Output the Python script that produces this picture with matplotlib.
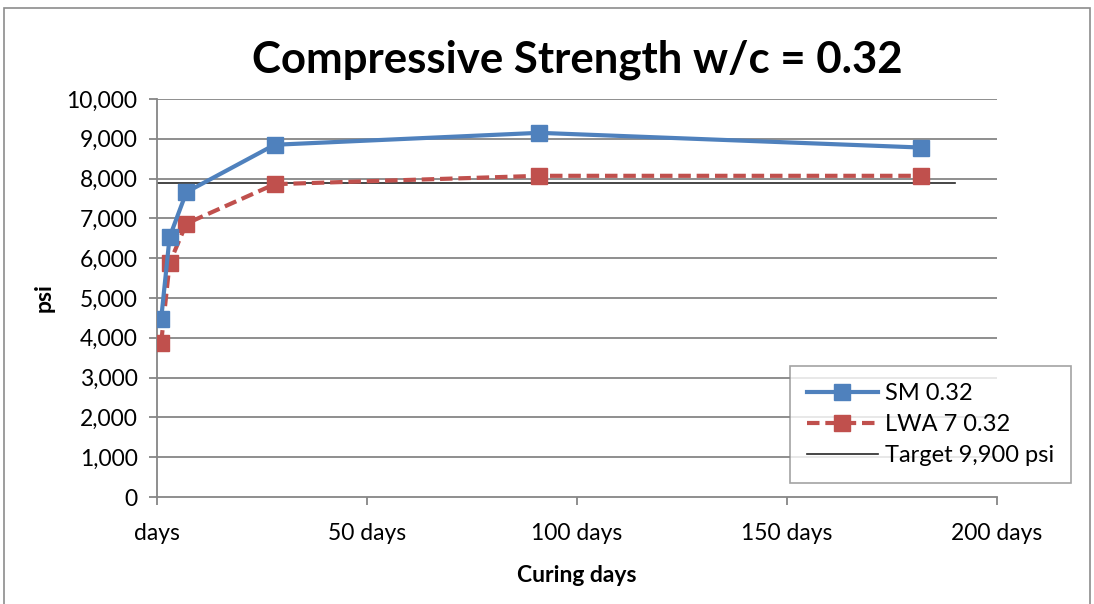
import matplotlib.pyplot as plt
from matplotlib.patches import Rectangle
from matplotlib.ticker import FuncFormatter

plt.rcParams['font.family'] = ['Lato', 'DejaVu Sans']

# curing age in days
days = [1, 3, 7, 28, 91, 182]
sm_psi = [4480, 6530, 7660, 8850, 9150, 8780]
lwa_psi = [3880, 5880, 6870, 7860, 8070, 8070]
target_days = [0, 190]
target_psi = [7890, 7890]

x_ticks = [0, 50, 100, 150, 200]
y_ticks = list(range(0, 10001, 1000))

fig = plt.figure(figsize=(10.94, 6.04), dpi=100)
ax = fig.add_axes([157 / 1094, 1 - 497 / 604, 840 / 1094, 398 / 604])

# outer chart border
fig.patches.append(Rectangle((4 / 1094, -0.01), 1086 / 1094, 1 - 8 / 604 + 0.01,
                             transform=fig.transFigure, fill=False,
                             edgecolor='#8c8c8c', lw=1.2))

grid_c = '#868686'
for y in y_ticks[1:]:
    ax.axhline(y, color=grid_c, lw=1.3, zorder=1)

ax.plot(target_days, target_psi, color='#262626', lw=1.2, zorder=2,
        label='Target 9,900 psi')
ax.plot(days, lwa_psi, color='#c0504d', lw=3, ls=(0, (3, 1.4)), marker='s',
        markersize=11, zorder=3, label='LWA 7 0.32')
ax.plot(days, sm_psi, color='#4f81bd', lw=3, marker='s', markersize=11,
        zorder=4, label='SM 0.32')

ax.set_xlim(0, 200)
ax.set_ylim(0, 10000)
ax.set_xticks(x_ticks)
ax.set_yticks(y_ticks)
ax.xaxis.set_major_formatter(FuncFormatter(lambda v, p: 'days' if v == 0 else f'{v:.0f} days'))
ax.yaxis.set_major_formatter(FuncFormatter(lambda v, p: f'{v:,.0f}'))
ax.tick_params(axis='both', labelsize=16.5, color=grid_c, length=6, width=1.3)
ax.tick_params(axis='x', pad=13)
ax.tick_params(axis='y', pad=8)

for s in ['top', 'right']:
    ax.spines[s].set_visible(False)
for s in ['left', 'bottom']:
    ax.spines[s].set_color(grid_c)
    ax.spines[s].set_linewidth(1.3)

ax.set_xlabel('Curing days', fontsize=16.5, fontweight='bold')
ax.set_ylabel('psi', fontsize=16.5, fontweight='bold')
ax.xaxis.set_label_coords(0.5, (497 - 565) / 398)
ax.yaxis.set_label_coords((55 - 157) / 840, 0.5)
ax.set_title('Compressive Strength w/c = 0.32', fontsize=31.5, fontweight='bold', pad=19)

handles, labels = ax.get_legend_handles_labels()
order = [2, 1, 0]
leg = ax.legend([handles[i] for i in order], [labels[i] for i in order],
                loc='lower right', bbox_to_anchor=(1.088, 0.035), borderaxespad=0,
                fontsize=17, frameon=True, fancybox=False, edgecolor='#8c8c8c',
                handlelength=3.0, handletextpad=0.3, borderpad=0.72,
                labelspacing=0.42)
leg.get_frame().set_linewidth(1.2)

fig.savefig('out.png', dpi=100)
